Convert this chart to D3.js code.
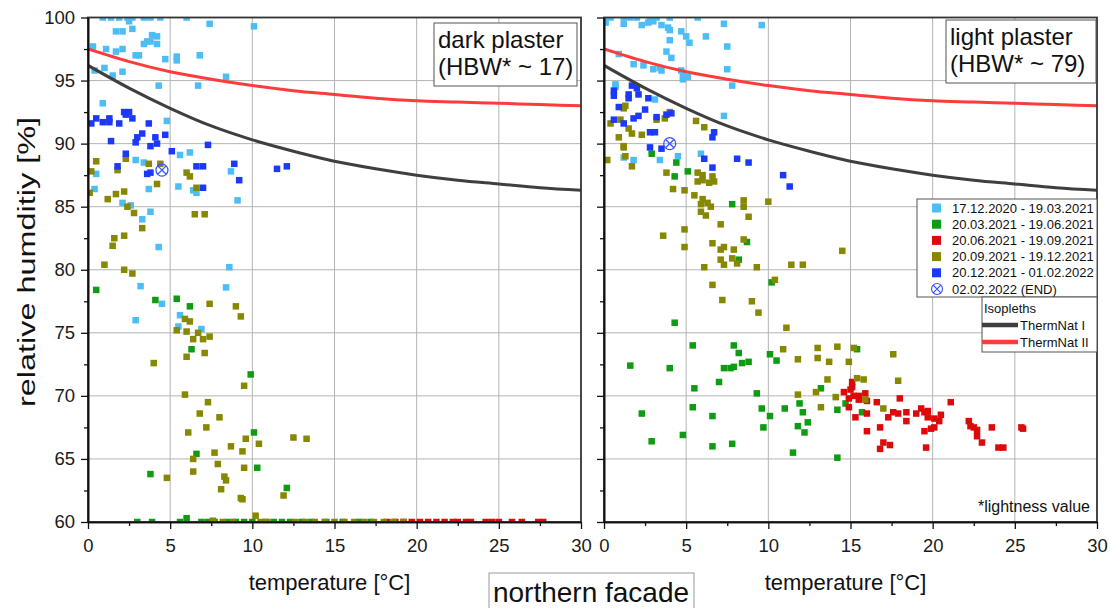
<!DOCTYPE html>
<html lang="en">
<head>
<meta charset="UTF-8">
<title>northern facade</title>
<script src="https://d3js.org/d3.v7.min.js"></script>
<style>
  body { margin: 0; background: #fff; }
  svg { display: block; font-family: "Liberation Sans", Arial, sans-serif; }
</style>
</head>
<body>
<svg id="chart"></svg>
<script>
// isopleths (temperature -> relative humidity)
const isoTemp = [0, 2.5, 5, 7.5, 10, 12.5, 15, 17.5, 20, 22.5, 25, 27.5, 30];
const thermNat1 = [96.2, 94.4, 92.8, 91.4, 90.3, 89.4, 88.6, 88.0, 87.5, 87.1, 86.8, 86.5, 86.3];
const thermNat2 = [97.5, 96.5, 95.7, 95.1, 94.6, 94.2, 93.9, 93.6, 93.4, 93.3, 93.2, 93.1, 93.0];

const periods = ["17.12.2020 - 19.03.2021", "20.03.2021 - 19.06.2021", "20.06.2021 - 19.09.2021",
  "20.09.2021 - 19.12.2021", "20.12.2021 - 01.02.2022"];
const endLabel = "02.02.2022 (END)";
const isoLabels = ["ThermNat I", "ThermNat II"];

// dark plaster [T, RH]
const darkP1 = [[0.9,100],[1.4,100],[1.9,100],[2.4,100],[2.7,100],[3.4,100],[3.8,100],[4.4,100],[6.0,100],
  [2.5,99.7],[7.4,99.5],[10.1,99.3],[1.7,98.9],[2.1,98.9],[2.7,99.1],[3.9,98.6],[4.2,98.5],[3.4,97.9],[3.6,98.1],
  [3.8,98.1],[4.2,97.9],[0.3,97.7],[1.1,97.5],[1.7,97.3],[2.1,97.5],[2.9,97.0],[3.1,97.0],[4.7,96.7],[5.4,96.9],
  [5.4,96.6],[6.8,97.0],[8.4,95.3],[0.4,95.8],[1.0,96.0],[1.5,95.4],[2.1,95.7],[4.3,94.6],[6.7,94.6],[0.9,93.2],
  [4.8,91.8],[2.9,88.7],[3.4,88.5],[5.6,89.1],[6.2,89.3],[0.5,87.6],[8.7,87.8],[0.4,86.4],[3.7,86.4],[5.5,86.6],
  [6.4,86.3],[6.6,86.1],[9.1,85.5],[2.1,85.3],[2.6,85.1],[3.8,84.6],[3.3,84.0],[4.3,81.8],[8.6,80.2],[8.4,78.6],
  [3.2,78.7],[4.5,77.3],[2.9,76.0],[5.6,76.4],[5.5,75.5],[6.9,75.3]];
const darkP2 = [[0.5,78.4],[4.1,77.6],[5.4,77.7],[6.2,77.1],[6.3,73.7],[9.9,71.7],[10.1,67.1],[6.6,65.4],[10.3,64.3],
  [3.8,63.8],[12.1,62.7],[6.0,60.3],
  [3.0,60],[3.9,60],[5.6,60],[6.9,60],[7.3,60],[7.7,60],[8.5,60],[9.0,60],[9.5,60],[10.0,60],[10.8,60],[11.3,60],
  [11.8,60],[12.3,60],[13.0,60],[13.6,60],[14.5,60],[15.5,60],[16.5,60],[17.2,60]];
const darkP3 = [[18.2,60],[18.7,60],[19.2,60],[19.7,60],[20.2,60],[20.7,60],[21.2,60],[21.7,60],[22.2,60],[22.5,60],
  [23.0,60],[23.3,60],[24.2,60],[24.6,60],[25.0,60],[25.8,60],[26.4,60],[27.4,60],[27.7,60]];
const darkP4 = [[0.5,88.6],[2.3,88.8],[0.2,87.8],[1.8,87.9],[3.7,88.4],[4.4,88.4],[6.0,87.7],[6.2,87.4],[4.2,86.8],
  [6.6,86.5],[2.2,86.2],[1.7,86.0],[0.1,86.1],[1.2,85.6],[2.4,85.0],[2.8,84.5],[3.3,83.3],[6.5,84.4],[7.1,84.4],
  [1.6,82.5],[2.2,82.7],[1.5,81.9],[1.0,80.4],[2.2,80.0],[2.7,79.7],[7.4,77.3],[9.0,77.1],[9.3,76.3],[5.9,76.1],
  [6.2,75.9],[5.4,75.2],[6.0,75.1],[6.7,75.0],[6.4,74.5],[7.0,74.5],[7.4,74.7],[7.1,73.4],[6.0,73.1],[4.0,72.6],
  [9.5,70.8],[5.9,70.1],[7.3,69.5],[6.8,68.6],[8.0,68.3],[6.1,67.1],[7.2,67.5],[9.6,66.6],[10.4,66.2],[12.5,66.7],
  [13.3,66.6],[8.7,66.0],[9.4,65.6],[7.7,65.5],[6.4,65.0],[7.9,64.6],[9.5,64.3],[6.4,64.0],[4.8,63.5],[8.3,63.6],
  [8.4,63.3],[8.1,62.6],[11.9,62.1],[9.3,61.9],[9.4,61.8],[10.2,60.5],[7.6,60.1],
  [7.6,60],[8.2,60],[8.8,60],[10.5,60],[10.9,60],[12.6,60],[13.2,60],[13.8,60],[14.4,60],[15.0,60],[15.6,60],
  [16.2,60],[16.8,60],[17.4,60],[18.0,60],[18.6,60],[19.2,60]];
const darkP5 = [[0.2,91.6],[0.5,92.0],[0.9,91.7],[1.3,92.0],[1.3,91.7],[1.9,91.6],[2.2,92.5],[2.5,92.5],[2.3,92.3],
  [2.7,92.0],[3.7,91.6],[3.3,90.8],[3.0,90.5],[2.9,90.1],[1.4,90.2],[4.1,90.5],[4.7,90.7],[3.8,89.8],[4.2,90.0],
  [7.3,89.9],[2.3,89.2],[5.1,89.4],[1.8,88.2],[3.6,87.6],[3.8,87.7],[6.6,88.2],[7.0,88.2],[8.9,88.4],[9.2,87.1],
  [7.0,86.5],[11.5,88.0],[12.1,88.2]];
const darkEnd = [4.5, 87.9];

// light plaster [T, RH]
const lightP1 = [[0.1,100],[0.4,100],[1.2,100],[1.6,100],[2.0,100],[2.8,100],[3.2,100],[4.0,100],[5.7,100],
  [0.1,99.6],[1.2,99.5],[2.3,99.4],[2.7,99.6],[3.0,99.7],[3.5,99.4],[3.9,99.2],[4.0,99.0],[7.3,99.5],[9.6,99.4],
  [4.7,98.9],[5.0,98.5],[5.2,98.0],[4.0,98.2],[6.2,98.5],[7.5,97.7],[3.8,97.3],[4.1,96.8],[0.9,97.1],[1.8,96.3],
  [2.4,96.2],[3.0,95.9],[3.4,96.0],[3.5,95.8],[4.7,95.8],[4.8,95.6],[7.5,95.9],[4.8,95.1],[5.1,95.3],[7.8,94.6],
  [0.7,94.7],[0.7,94.5],[3.1,93.5],[7.3,92.2],[4.5,89.0],[5.9,89.2],[3.4,88.7],[1.2,88.9],[1.8,88.7]];
const lightP2 = [[2.9,89.2],[4.4,88.5],[5.1,87.8],[4.3,87.4],[7.8,85.2],[8.7,82.2],[8.2,80.8],[10.2,79.0],[4.3,75.8],
  [5.4,74.0],[7.9,74.0],[8.2,73.4],[10.1,73.3],[10.5,72.8],[8.4,72.6],[8.8,72.7],[7.3,72.2],[7.7,72.2],[7.9,72.3],
  [1.6,72.4],[4.0,72.2],[7.0,71.1],[5.5,70.6],[13.2,70.6],[15.4,73.7],[9.3,70.2],[2.3,68.6],[5.4,69.1],[6.6,68.4],
  [9.6,69.0],[10.1,68.4],[11.0,69.0],[11.9,69.4],[12.1,68.7],[9.7,67.5],[11.8,67.6],[12.2,67.1],[12.4,67.9],
  [2.9,66.4],[4.8,66.9],[6.6,66.0],[7.8,66.2],[11.5,65.5],[14.2,65.1],[14.2,68.9],[14.7,69.4],[15.7,68.7]];
const lightP3 = [[15.1,71.1],[15.1,70.7],[14.6,70.3],[15.0,70.5],[15.2,70.0],[15.5,70.0],[15.9,70.2],[14.9,69.8],
  [15.5,69.7],[16.0,69.6],[14.9,69.1],[16.6,69.5],[18.0,69.8],[15.3,68.3],[16.0,68.6],[17.3,68.3],[17.6,68.7],
  [17.9,68.6],[18.4,68.7],[18.4,68.0],[19.0,68.6],[19.3,69.0],[19.5,68.7],[19.7,68.8],[19.7,68.3],[20.1,68.2],
  [20.4,68.0],[20.5,68.5],[21.1,69.5],[16.8,67.5],[16.0,67.2],[19.5,67.2],[19.9,67.4],[20.1,67.5],[17.0,66.3],
  [17.4,66.1],[16.8,65.8],[19.6,65.9],[22.2,68.0],[22.3,67.6],[22.5,67.5],[22.7,67.3],[22.7,66.8],[23.0,66.3],
  [23.6,67.5],[24.0,65.9],[24.3,65.9],[25.4,67.5],[25.5,67.4]];
const lightP4 = [[1.3,93.0],[1.2,92.8],[0.4,91.6],[1.0,91.9],[1.5,91.2],[1.7,90.8],[2.3,90.7],[0.9,90.5],[1.2,89.8],
  [1.2,89.7],[1.3,89.0],[0.2,88.7],[1.7,88.2],[3.2,91.9],[3.7,92.0],[4.0,92.5],[5.6,91.8],[6.1,91.3],[3.8,87.7],
  [5.7,87.7],[6.0,87.5],[5.7,87.0],[6.0,87.1],[6.4,86.9],[6.6,87.4],[6.7,87.0],[4.2,86.4],[4.9,86.3],[5.5,85.9],
  [6.0,85.6],[8.5,85.5],[10.0,85.4],[5.9,85.2],[6.3,85.3],[6.5,85.0],[5.9,84.6],[6.2,84.3],[8.5,85.0],[8.8,84.2],
  [7.1,83.6],[3.6,82.7],[4.9,83.2],[4.9,81.8],[6.6,82.1],[7.1,81.6],[7.3,81.8],[7.9,81.6],[8.5,82.4],[7.1,80.8],
  [7.3,80.4],[7.8,80.9],[8.1,80.5],[6.1,80.2],[9.3,80.2],[11.4,80.4],[12.1,80.4],[14.5,81.5],[10.4,79.2],[6.6,78.8],
  [7.2,77.6],[9.0,77.5],[9.4,76.6],[11.1,75.4],[10.9,73.7],[13.0,73.8],[14.2,73.9],[11.8,72.9],[13.0,73.0],
  [13.7,72.7],[14.9,72.7],[13.6,71.3],[15.2,73.8],[17.6,73.3],[15.4,71.4],[15.8,71.3],[17.9,71.2],[11.8,70.1],
  [12.9,70.3],[14.1,69.9],[13.2,69.1],[15.9,69.7],[17.0,69.0]];
const lightP5 = [[0.6,94.2],[0.6,93.8],[1.5,93.9],[1.5,93.6],[1.7,94.6],[2.0,94.4],[2.1,93.9],[2.7,93.6],[0.9,92.9],
  [2.5,92.7],[0.6,91.9],[1.2,91.6],[1.8,92.0],[2.1,92.2],[3.2,92.1],[3.8,92.3],[4.1,92.4],[2.8,90.9],[3.1,90.9],
  [6.7,90.9],[6.6,90.5],[2.8,89.7],[3.5,89.6],[6.1,88.8],[8.1,88.8],[8.8,88.5],[6.6,88.1],[10.9,87.5],[11.3,86.6]];
const lightEnd = [4.0, 90.0];

const colors = ["#4cbdf5", "#0e9c12", "#dc0a0a", "#878700", "#1c38fa"];
const endColor = "#3a55ff";
const isoColors = ["#3f3f3f", "#ff3b3b"];

const width = 1110, height = 608;
const svg = d3.select("#chart").attr("width", width).attr("height", height);

const yTop = 17.5, yBottom = 522;
const y = d3.scaleLinear().domain([60, 100]).range([yBottom, yTop]);

const panels = [
  { id: "dark", x0: 88, x1: 581, series: [darkP1, darkP2, darkP3, darkP4, darkP5], end: darkEnd,
    yLabels: true, title: ["dark plaster", "(HBW* ~ 17)"], box: [434, 23, 143, 63] },
  { id: "light", x0: 604, x1: 1097, series: [lightP1, lightP2, lightP3, lightP4, lightP5], end: lightEnd,
    yLabels: false, title: ["light plaster", "(HBW* ~ 79)"], box: [946, 20, 150, 63] }
];

panels.forEach(p => {
  const x = d3.scaleLinear().domain([0, 30]).range([p.x0, p.x1]);
  const g = svg.append("g");

  g.append("clipPath").attr("id", "clip-" + p.id)
    .append("rect")
    .attr("x", p.x0).attr("y", yTop)
    .attr("width", p.x1 - p.x0).attr("height", yBottom - yTop);

  // grid
  g.append("g").selectAll("line")
    .data([5, 10, 15, 20, 25])
    .join("line")
    .attr("x1", d => x(d)).attr("x2", d => x(d))
    .attr("y1", yTop).attr("y2", yBottom)
    .attr("stroke", "#b4b4b4").attr("stroke-width", 1);
  g.append("g").selectAll("line")
    .data([65, 70, 75, 80, 85, 90, 95])
    .join("line")
    .attr("x1", p.x0).attr("x2", p.x1)
    .attr("y1", d => y(d)).attr("y2", d => y(d))
    .attr("stroke", "#b4b4b4").attr("stroke-width", 1);

  const plot = g.append("g").attr("clip-path", `url(#clip-${p.id})`);

  // scatter squares
  const s = 6.5;
  p.series.forEach((pts, i) => {
    plot.append("g").selectAll("rect")
      .data(pts)
      .join("rect")
      .attr("x", d => x(d[0]) - s / 2)
      .attr("y", d => y(d[1]) - s / 2)
      .attr("width", s).attr("height", s)
      .attr("fill", colors[i]);
  });

  // isopleths
  const line = d3.line()
    .x((d, i) => x(isoTemp[i]))
    .y(d => y(d))
    .curve(d3.curveMonotoneX);
  [thermNat1, thermNat2].forEach((vals, i) => {
    plot.append("path")
      .attr("d", line(vals))
      .attr("fill", "none")
      .attr("stroke", isoColors[i])
      .attr("stroke-width", 3);
  });

  // end marker
  const ex = x(p.end[0]), ey = y(p.end[1]), r = 6;
  const m = g.append("g").attr("stroke", endColor).attr("stroke-width", 1.3).attr("fill", "none");
  m.append("circle").attr("cx", ex).attr("cy", ey).attr("r", r);
  m.append("path").attr("d", `M${ex - r * 0.7},${ey - r * 0.7}L${ex + r * 0.7},${ey + r * 0.7}M${ex - r * 0.7},${ey + r * 0.7}L${ex + r * 0.7},${ey - r * 0.7}`);

  // frame
  g.append("rect")
    .attr("x", p.x0).attr("y", yTop)
    .attr("width", p.x1 - p.x0).attr("height", yBottom - yTop)
    .attr("fill", "none").attr("stroke", "#333").attr("stroke-width", 1.8);

  // axes
  const yAxis = d3.axisLeft(y).tickValues(d3.range(60, 101, 5)).tickSize(7).tickPadding(6).tickSizeOuter(0);
  if (!p.yLabels) yAxis.tickFormat("");
  const yMinor = d3.axisLeft(y).tickValues(d3.range(62.5, 100, 5)).tickSize(4).tickFormat("").tickSizeOuter(0);
  const xAxis = d3.axisBottom(x).tickValues(d3.range(0, 31, 5)).tickSize(7).tickPadding(10).tickSizeOuter(0);
  const xMinor = d3.axisBottom(x).tickValues(d3.range(2.5, 30, 5)).tickSize(4).tickFormat("").tickSizeOuter(0);

  [[yAxis, `translate(${p.x0},0)`], [yMinor, `translate(${p.x0},0)`],
   [xAxis, `translate(0,${yBottom})`], [xMinor, `translate(0,${yBottom})`]].forEach(([ax, tr]) => {
    const a = g.append("g").attr("transform", tr).call(ax);
    a.select(".domain").attr("stroke", "#111").attr("stroke-width", 1.6);
    a.selectAll(".tick line").attr("stroke", "#111").attr("stroke-width", 1.3);
    a.selectAll(".tick text")
      .attr("font-size", 18.5).attr("fill", "#1a1a1a")
      .attr("font-family", '"Liberation Sans", Arial, sans-serif');
  });

  // x title
  g.append("text")
    .attr("x", (p.x0 + p.x1) / 2 - 5).attr("y", 590)
    .attr("text-anchor", "middle")
    .attr("font-size", 22).attr("fill", "#111")
    .text("temperature [°C]");

  // panel label
  const [bx, by, bw, bh] = p.box;
  g.append("rect")
    .attr("x", bx).attr("y", by).attr("width", bw).attr("height", bh)
    .attr("fill", "#fff").attr("stroke", "#555").attr("stroke-width", 1);
  g.selectAll("text.plabel")
    .data(p.title)
    .join("text")
    .attr("class", "plabel")
    .attr("x", bx + 4).attr("y", (d, i) => by + 25 + i * 27)
    .attr("font-size", 24).attr("fill", "#111")
    .text(d => d);

  if (p.id === "light") {
    // period legend
    const lg = g.append("g");
    lg.append("rect")
      .attr("x", 917).attr("y", 199).attr("width", p.x1 - 917).attr("height", 98)
      .attr("fill", "#fff").attr("stroke", "#555").attr("stroke-width", 1);
    periods.forEach((lab, i) => {
      const cy = 208 + i * 16.2;
      lg.append("rect").attr("x", 932).attr("y", cy - 4.5).attr("width", 9).attr("height", 9).attr("fill", colors[i]);
      lg.append("text").attr("x", 952).attr("y", cy + 4.5).attr("font-size", 13).attr("fill", "#111").text(lab);
    });
    const cy = 208 + 5 * 16.2, cx = 937, rr = 5.5;
    lg.append("circle").attr("cx", cx).attr("cy", cy).attr("r", rr)
      .attr("fill", "none").attr("stroke", endColor).attr("stroke-width", 1.2);
    lg.append("path")
      .attr("d", `M${cx - rr * 0.7},${cy - rr * 0.7}L${cx + rr * 0.7},${cy + rr * 0.7}M${cx - rr * 0.7},${cy + rr * 0.7}L${cx + rr * 0.7},${cy - rr * 0.7}`)
      .attr("stroke", endColor).attr("stroke-width", 1.2);
    lg.append("text").attr("x", 952).attr("y", cy + 4.5).attr("font-size", 13).attr("fill", "#111").text(endLabel);

    // isopleth legend
    lg.append("rect")
      .attr("x", 982).attr("y", 297).attr("width", p.x1 - 982).attr("height", 55)
      .attr("fill", "#fff").attr("stroke", "#555").attr("stroke-width", 1);
    lg.append("text").attr("x", 984).attr("y", 313).attr("font-size", 13).attr("fill", "#111").text("Isopleths");
    isoLabels.forEach((lab, i) => {
      const ly = 325 + i * 17;
      lg.append("line").attr("x1", 982).attr("x2", 1018).attr("y1", ly).attr("y2", ly)
        .attr("stroke", isoColors[i]).attr("stroke-width", 4.5);
      lg.append("text").attr("x", 1020).attr("y", ly + 4.5).attr("font-size", 13).attr("fill", "#111").text(lab);
    });

    g.append("text")
      .attr("x", 1090).attr("y", 512)
      .attr("text-anchor", "end")
      .attr("font-size", 16).attr("fill", "#111")
      .text("*lightness value");
  }
});

// y title
svg.append("text")
  .attr("transform", `translate(35,262) rotate(-90)`)
  .attr("text-anchor", "middle")
  .attr("font-size", 23).attr("fill", "#111")
  .attr("textLength", 290).attr("lengthAdjust", "spacingAndGlyphs")
  .text("relative humditiy [%]");

// facade caption
svg.append("rect")
  .attr("x", 489).attr("y", 573).attr("width", 205).attr("height", 45)
  .attr("fill", "#fff").attr("stroke", "#999").attr("stroke-width", 1);
svg.append("text")
  .attr("x", 591).attr("y", 602)
  .attr("text-anchor", "middle")
  .attr("font-size", 28).attr("fill", "#111")
  .text("northern facade");
</script>
</body>
</html>
